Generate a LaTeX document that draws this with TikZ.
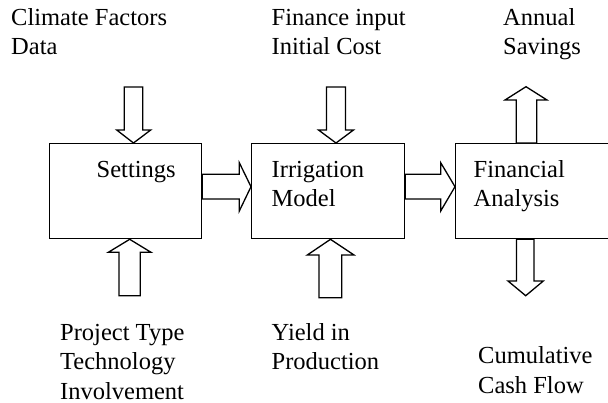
\documentclass[tikz,border=0pt]{standalone}
\usepackage{fontspec}
\setmainfont{Liberation Serif}
\begin{document}
\begin{tikzpicture}[x=1pt,y=-1pt,
  box/.style={draw,line width=1.3pt,inner sep=0pt},
  blockarrow/.style={draw,line width=1.3pt,line join=miter,fill=white},
  label/.style={anchor=base west,inner sep=0pt,align=left,
    font=\fontsize{24.5}{29.5}\selectfont}]
  \useasboundingbox (0,0) rectangle (608,402);
  \clip (0,0) rectangle (608,402);

  % process boxes
  \node[box,minimum width=152pt,minimum height=95pt,anchor=north west] (settings) at (49,143) {};
  \node[box,minimum width=153pt,minimum height=95pt,anchor=north west] (irrig) at (251,143) {};
  \node[box,minimum width=190pt,minimum height=95pt,anchor=north west] (fin) at (455,143) {};

  % box captions (base anchor sits on the last line)
  \node[label] (tset) at (96.5,177) {Settings};
  \node[label] (tirr) at (271.5,206.5) {Irrigation\\Model};
  \node[label] (tfin) at (473.5,206.5) {Financial\\Analysis};

  % inputs and outputs
  \node[label] (clim) at (11,54.5) {Climate Factors\\Data};
  \node[label] (finin) at (271.5,54.5) {Finance input\\Initial Cost};
  \node[label] (sav) at (503,54.5) {Annual\\Savings};
  \node[label] (proj) at (60,399) {Project Type\\Technology\\Involvement};
  \node[label] (yield) at (271.5,369.5) {Yield in\\Production};
  \node[label] (cash) at (478,393) {Cumulative\\Cash Flow};

  % block arrows into the top of the boxes
  \draw[blockarrow] (124.3,87) -- (142.7,87) -- (142.7,130) -- (150.7,130)
    -- (settings.north -| 133.5,0) -- (116.7,130) -- (124.3,130) -- cycle;
  \draw[blockarrow] (326.5,87) -- (345.5,87) -- (345.5,130) -- (353.5,130)
    -- (irrig.north -| 336,0) -- (318.5,130) -- (326.5,130) -- cycle;
  % output arrow above the analysis box
  \draw[blockarrow] (fin.north -| 516.3,0) -- (516.3,100) -- (505,100) -- (526,86.7)
    -- (547,100) -- (536.7,100) -- (fin.north -| 536.7,0) -- cycle;

  % block arrows into the bottom of the boxes
  \draw[blockarrow] (119,295.7) -- (119,252.3) -- (108.3,252.3) -- (settings.south -| 129.7,0)
    -- (151,252.3) -- (140.3,252.3) -- (140.3,295.7) -- cycle;
  \draw[blockarrow] (319,297.7) -- (319,255) -- (307.3,255) -- (irrig.south -| 330.5,0)
    -- (354,255) -- (341.7,255) -- (341.7,297.7) -- cycle;
  % output arrow below the analysis box
  \draw[blockarrow] (fin.south -| 516.5,0) -- (516.5,281) -- (508,281) -- (525.7,295.7)
    -- (543.3,281) -- (534,281) -- (fin.south -| 534,0) -- cycle;

  % arrows between the boxes
  \draw[blockarrow] (settings.east |- 0,174.3) -- (239.3,174.3) -- (239.3,162.7)
    -- (irrig.west |- 0,186.7) -- (239.3,211) -- (239.3,199) -- (settings.east |- 0,199) -- cycle;
  \draw[blockarrow] (irrig.east |- 0,174.3) -- (440.7,174.3) -- (440.7,162.7)
    -- (fin.west |- 0,186.7) -- (440.7,211) -- (440.7,199) -- (irrig.east |- 0,199) -- cycle;
\end{tikzpicture}
\end{document}
